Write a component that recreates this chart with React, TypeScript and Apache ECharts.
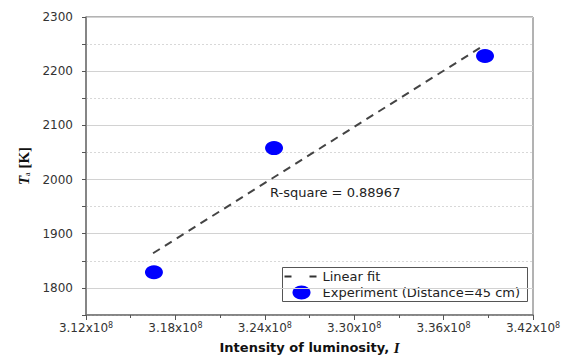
import React, { useEffect, useRef } from "react";
import * as echarts from "echarts";

const expX = [316560000, 324620000, 338780000];
const expY = [1829, 2058, 2228];
const fitX = [316500000, 338440000];
const fitY = [1864, 2243];
const xMin = 312000000;
const xMax = 342000000;
const xStep = 6000000;
const yMin = 1750;
const yMax = 2300;
const yStep = 50;
const rSquareText = "R-square = 0.88967";
const fitName = "Linear fit";
const expName = "Experiment (Distance=45 cm)";

const FONT = "DejaVu Sans";

export default function App() {
  const ref = useRef<HTMLDivElement>(null);
  useEffect(() => {
    if (!ref.current) return;
    const chart = echarts.init(ref.current, undefined, { renderer: "svg" });
    const expData = expX.map((x, i) => [x, expY[i]]);
    const fitData = fitX.map((x, i) => [x, fitY[i]]);
    chart.setOption({
      animation: false,
      backgroundColor: "#fff",
      grid: {
        left: 86,
        right: 38,
        top: 17,
        bottom: 49,
        show: true,
        borderColor: "#666",
        borderWidth: 1,
        backgroundColor: "transparent",
      },
      xAxis: {
        type: "value",
        min: xMin,
        max: xMax,
        interval: xStep,
        name: "{n|Intensity of luminosity, }{i|I}",
        nameLocation: "middle",
        nameGap: 25,
        nameTextStyle: {
          rich: {
            n: { fontFamily: FONT, fontWeight: "bold", fontSize: 13, color: "#111" },
            i: { fontFamily: "Liberation Serif", fontWeight: "bold", fontStyle: "italic", fontSize: 15, color: "#111" },
          },
        },
        axisLine: { show: true, lineStyle: { color: "#777", width: 1.5 } },
        axisTick: { show: true, length: 5, lineStyle: { color: "#555" } },
        minorTick: { show: true, splitNumber: 2, length: 3, lineStyle: { color: "#555" } },
        splitLine: { show: false },
        axisLabel: {
          margin: 6,
          color: "#333",
          fontFamily: FONT,
          fontSize: 12,
          formatter: (v: number) => (v / 1e8).toFixed(2) + "x10{sup|8}",
          rich: {
            sup: { fontFamily: FONT, fontSize: 8, color: "#333", verticalAlign: "top", padding: [0, 0, 6, 0] },
          },
        },
      },
      yAxis: [
        {
          type: "value",
          min: yMin,
          max: yMax,
          interval: yStep,
          name: "{t|T}{s|a}{k| [K]}",
          nameLocation: "middle",
          nameRotate: 90,
          nameGap: 54,
          nameTextStyle: {
            rich: {
              t: { fontFamily: "Liberation Serif", fontWeight: "bold", fontStyle: "italic", fontSize: 15, color: "#111" },
              s: { fontFamily: "Liberation Serif", fontSize: 8, color: "#111", verticalAlign: "bottom", padding: [6, 0, 0, 0] },
              k: { fontFamily: "Liberation Serif", fontWeight: "bold", fontSize: 15, color: "#111" },
            },
          },
          axisLine: { show: true, lineStyle: { color: "#777", width: 1.5 } },
          axisTick: { show: true, length: 4, lineStyle: { color: "#555" } },
          axisLabel: {
            margin: 13,
            color: "#333",
            fontFamily: FONT,
            fontSize: 12,
            formatter: (v: number) => (v % 100 === 0 ? String(v) : ""),
          },
          splitLine: {
            show: true,
            lineStyle: { color: ["rgba(0,0,0,0)", "#d2d2d2"], width: 1, type: "solid" },
          },
        },
        {
          type: "value",
          min: yMin,
          max: yMax,
          interval: yStep,
          position: "left",
          axisLine: { show: false },
          axisTick: { show: false },
          axisLabel: { show: false },
          splitLine: {
            show: true,
            lineStyle: { color: ["#d8d8d8", "rgba(0,0,0,0)"], width: 1, type: [2, 2] },
          },
        },
      ],
      graphic: [
        {
          type: "text",
          left: 270,
          top: 186,
          style: { text: rSquareText, fontFamily: FONT, fontSize: 13, fill: "#222" },
        },
        {
          type: "group",
          left: 282,
          top: 267,
          z: 100,
          children: [
            {
              type: "rect",
              shape: { x: 0, y: 0, width: 245, height: 34 },
              style: { fill: "#fff", stroke: "#555", lineWidth: 1 },
            },
            {
              type: "line",
              shape: { x1: 2, y1: 9, x2: 39, y2: 9 },
              style: { stroke: "#333", lineWidth: 2, lineDash: [7, 18] },
            },
            {
              type: "text",
              x: 40,
              y: 9,
              style: { text: fitName, fontFamily: FONT, fontSize: 13, fill: "#222", verticalAlign: "middle" },
            },
            {
              type: "ellipse",
              shape: { cx: 19, cy: 25, rx: 9, ry: 7 },
              style: { fill: "#0000ff" },
            },
            {
              type: "text",
              x: 40,
              y: 25,
              style: { text: expName, fontFamily: FONT, fontSize: 13, fill: "#222", verticalAlign: "middle" },
            },
          ],
        },
      ],
      series: [
        {
          name: fitName,
          type: "line",
          data: fitData,
          symbol: "none",
          lineStyle: { color: "#444", width: 2, type: [8, 6] },
          itemStyle: { color: "#444" },
          z: 3,
        },
        {
          name: expName,
          type: "scatter",
          data: expData,
          symbol: "circle",
          symbolSize: [18, 14],
          itemStyle: { color: "#0000ff", opacity: 1 },
          z: 4,
        },
      ],
    });
    return () => chart.dispose();
  }, []);
  return <div ref={ref} style={{ width: 571, height: 364, margin: -8 }} />;
}
